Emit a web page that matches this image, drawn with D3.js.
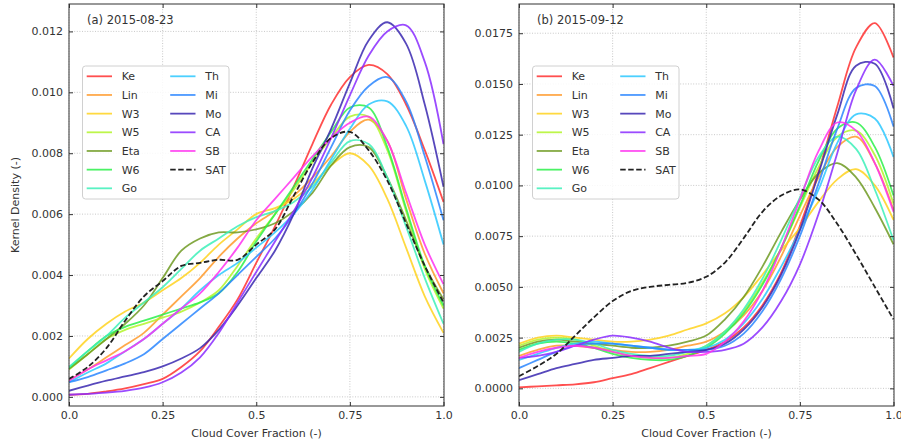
<!DOCTYPE html>
<html>
<head>
<meta charset="utf-8">
<script src="https://cdn.jsdelivr.net/npm/d3@7"></script>
<style>
  body { margin: 0; background: #fff; }
  text { font-family: "DejaVu Sans", sans-serif; fill: #333; }
</style>
</head>
<body>
<div class="chart"></div>
<script>
// x positions (cloud cover fraction) where the curves were read
const xGrid = [0, 0.05, 0.1, 0.15, 0.2, 0.25, 0.3, 0.35, 0.4, 0.45, 0.5, 0.55, 0.6, 0.65, 0.7, 0.75, 0.8, 0.85, 0.9, 0.95, 1]

const seriesNames = ["Ke", "Lin", "W3", "W5", "Eta", "W6", "Go", "Th", "Mi", "Mo", "CA", "SB", "SAT"]
const seriesColors = ["#ff3030", "#ff9a2a", "#ffd21f", "#b2f52a", "#6f9a22", "#2cf04a", "#3cf0b8",
                      "#2cc8ff", "#2a86ff", "#3a28b0", "#8a2cff", "#ff30f0", "#222222"]

const xTicks = [0, 0.25, 0.5, 0.75, 1]
const xTickLabels = ["0.0", "0.25", "0.5", "0.75", "1.0"]

// (a) 2015-08-23
const augKe  = [0.00007, 0.0001, 0.00018, 0.00028, 0.00042, 0.00059, 0.00098, 0.0015, 0.0023, 0.0032, 0.0044, 0.0056, 0.0069, 0.0083, 0.0096, 0.0105, 0.0109, 0.0106, 0.0096, 0.0081, 0.0064]
const augLin = [0.00055, 0.0009, 0.0013, 0.0017, 0.0021, 0.0027, 0.0033, 0.0039, 0.0046, 0.0052, 0.0057, 0.0061, 0.0066, 0.0072, 0.0079, 0.0087, 0.0091, 0.0084, 0.0065, 0.0047, 0.0034]
const augW3  = [0.00126, 0.0019, 0.0024, 0.0028, 0.0031, 0.0035, 0.0039, 0.0044, 0.005, 0.0055, 0.006, 0.0062, 0.0065, 0.007, 0.0076, 0.008, 0.0076, 0.0065, 0.0049, 0.0033, 0.0021]
const augW5  = [0.0009, 0.0014, 0.0019, 0.0022, 0.0024, 0.0026, 0.0028, 0.0031, 0.0035, 0.0043, 0.0052, 0.006, 0.0068, 0.0077, 0.0085, 0.0092, 0.0092, 0.0081, 0.0061, 0.0042, 0.0029]
const augEta = [0.00092, 0.0014, 0.0019, 0.0024, 0.003, 0.0039, 0.0048, 0.0052, 0.0054, 0.0054, 0.0055, 0.0057, 0.0061, 0.0067, 0.0076, 0.0082, 0.0082, 0.0072, 0.0058, 0.0043, 0.0032]
const augW6  = [0.00095, 0.0015, 0.002, 0.0023, 0.0025, 0.0027, 0.0029, 0.0031, 0.0034, 0.0041, 0.0051, 0.006, 0.0069, 0.0078, 0.0087, 0.0095, 0.0095, 0.0082, 0.0062, 0.0043, 0.003]
const augGo  = [0.00098, 0.0015, 0.002, 0.0026, 0.0031, 0.0036, 0.0042, 0.0048, 0.0052, 0.0056, 0.0059, 0.0061, 0.0064, 0.0069, 0.0077, 0.0084, 0.0083, 0.0072, 0.0056, 0.0039, 0.0024]
const augTh  = [0.00048, 0.0008, 0.0011, 0.0015, 0.0019, 0.0024, 0.0029, 0.0035, 0.004, 0.0044, 0.0049, 0.0054, 0.006, 0.0068, 0.0078, 0.0088, 0.0096, 0.0097, 0.0089, 0.0071, 0.005]
const augMi  = [0.00048, 0.00065, 0.00087, 0.0011, 0.0014, 0.0019, 0.0024, 0.0029, 0.0034, 0.004, 0.0046, 0.0052, 0.006, 0.007, 0.0082, 0.0094, 0.0102, 0.0105, 0.0097, 0.0079, 0.0058]
const augMo  = [0.0002, 0.00037, 0.00053, 0.00067, 0.00081, 0.001, 0.00126, 0.0016, 0.0022, 0.003, 0.0039, 0.0048, 0.006, 0.0075, 0.0088, 0.0103, 0.0117, 0.0123, 0.0116, 0.0096, 0.0069]
const augCA  = [0.00007, 0.0001, 0.00014, 0.0002, 0.0003, 0.00048, 0.0008, 0.0013, 0.0021, 0.0031, 0.0041, 0.0051, 0.0061, 0.0072, 0.0085, 0.0099, 0.0112, 0.012, 0.0122, 0.011, 0.0083]
const augSB  = [0.00053, 0.0009, 0.0012, 0.0015, 0.0019, 0.0024, 0.0029, 0.0034, 0.0041, 0.0049, 0.0058, 0.0065, 0.0072, 0.0079, 0.0085, 0.009, 0.0092, 0.0084, 0.0067, 0.005, 0.0037]
const augSAT = [0.00059, 0.00098, 0.0016, 0.0025, 0.0033, 0.0038, 0.0043, 0.0044, 0.0045, 0.0045, 0.005, 0.0055, 0.0066, 0.0077, 0.0085, 0.0087, 0.0081, 0.0071, 0.0057, 0.0043, 0.0031]

// (b) 2015-09-12
const sepKe  = [0.00005, 0.0001, 0.00015, 0.0002, 0.0003, 0.0005, 0.0007, 0.001, 0.0013, 0.0016, 0.0019, 0.0023, 0.003, 0.0041, 0.0057, 0.008, 0.0107, 0.0139, 0.0168, 0.018, 0.0163]
const sepLin = [0.0016, 0.0019, 0.0021, 0.0021, 0.002, 0.0019, 0.0018, 0.0018, 0.0019, 0.0021, 0.0023, 0.0028, 0.0036, 0.0048, 0.0065, 0.0085, 0.0104, 0.0119, 0.0124, 0.0111, 0.0088]
const sepW3  = [0.0022, 0.0025, 0.0026, 0.0025, 0.0024, 0.0023, 0.0023, 0.0024, 0.0026, 0.0029, 0.0032, 0.0037, 0.0045, 0.0056, 0.0068, 0.0079, 0.0092, 0.0103, 0.0108, 0.01, 0.0083]
const sepW5  = [0.0021, 0.0024, 0.0025, 0.0024, 0.0021, 0.0018, 0.0016, 0.0015, 0.0015, 0.0017, 0.0021, 0.0028, 0.0038, 0.0052, 0.0069, 0.0089, 0.0109, 0.0124, 0.0127, 0.0115, 0.0091]
const sepEta = [0.002, 0.0023, 0.0024, 0.0023, 0.0022, 0.0021, 0.002, 0.002, 0.0021, 0.0023, 0.0026, 0.0034, 0.0045, 0.006, 0.0077, 0.0093, 0.0106, 0.0111, 0.0104, 0.0089, 0.0071]
const sepW6  = [0.0019, 0.0022, 0.0023, 0.0022, 0.002, 0.0017, 0.0015, 0.0014, 0.0014, 0.0016, 0.002, 0.0027, 0.0037, 0.0051, 0.0069, 0.009, 0.0112, 0.0128, 0.0131, 0.0119, 0.0095]
const sepGo  = [0.0018, 0.0022, 0.0024, 0.0024, 0.0022, 0.0019, 0.0017, 0.0016, 0.0016, 0.0018, 0.0021, 0.0028, 0.0039, 0.0054, 0.0073, 0.0094, 0.0114, 0.0124, 0.0118, 0.0098, 0.0073]
const sepTh  = [0.0014, 0.0017, 0.002, 0.0022, 0.0023, 0.0022, 0.0021, 0.002, 0.0019, 0.0019, 0.002, 0.0024, 0.0032, 0.0044, 0.006, 0.0078, 0.0098, 0.0121, 0.0135, 0.0133, 0.0114]
const sepMi  = [0.001, 0.0014, 0.0018, 0.0021, 0.0022, 0.0022, 0.0021, 0.002, 0.0019, 0.0019, 0.0019, 0.0021, 0.0027, 0.0038, 0.0054, 0.0075, 0.0101, 0.0128, 0.0148, 0.0149, 0.0129]
const sepMo  = [0.0004, 0.0007, 0.001, 0.0012, 0.0014, 0.0015, 0.0016, 0.0016, 0.0017, 0.0018, 0.0019, 0.0022, 0.0029, 0.004, 0.0056, 0.0078, 0.0106, 0.0135, 0.0159, 0.016, 0.0138]
const sepCA  = [0.0015, 0.0016, 0.0018, 0.0021, 0.0024, 0.0026, 0.0025, 0.0023, 0.002, 0.0018, 0.0018, 0.0019, 0.0022, 0.003, 0.0043, 0.0061, 0.0086, 0.0116, 0.0147, 0.0162, 0.0149]
const sepSB  = [0.0015, 0.0018, 0.002, 0.0021, 0.002, 0.0018, 0.0016, 0.0015, 0.0015, 0.0016, 0.0017, 0.0023, 0.0033, 0.0048, 0.0069, 0.0093, 0.0117, 0.0131, 0.0127, 0.0111, 0.0087]
const sepSAT = [0.0006, 0.0011, 0.0017, 0.0026, 0.0035, 0.0043, 0.0048, 0.005, 0.0051, 0.0052, 0.0055, 0.0062, 0.0074, 0.0087, 0.0095, 0.0098, 0.0093, 0.0081, 0.0066, 0.005, 0.0034]

const augTicks = [0, 0.002, 0.004, 0.006, 0.008, 0.010, 0.012]
const sepTicks = [0, 0.0025, 0.005, 0.0075, 0.01, 0.0125, 0.015, 0.0175]

const panels = [
    { title: "(a) 2015-08-23", left: 69, domain: [-0.0003, 0.0129], ticks: augTicks, fmt: d3.format(".3f"),
      series: [augKe, augLin, augW3, augW5, augEta, augW6, augGo, augTh, augMi, augMo, augCA, augSB, augSAT] },
    { title: "(b) 2015-09-12", left: 519, domain: [-0.00087, 0.01894], ticks: sepTicks, fmt: d3.format(".4f"),
      series: [sepKe, sepLin, sepW3, sepW5, sepEta, sepW6, sepGo, sepTh, sepMi, sepMo, sepCA, sepSB, sepSAT] }
]

const W = 901, H = 444
const plot = { top: 4, bottom: 406, width: 375 }

const svg = d3.select(".chart").append("svg").attr("width", W).attr("height", H)

let draw_panel = (p, idx) => {
    const x = d3.scaleLinear().domain([0, 1]).range([p.left, p.left + plot.width - 0.5])
    const y = d3.scaleLinear().domain(p.domain).range([plot.bottom, plot.top])
    const g = svg.append("g")
    const right = p.left + plot.width

    // dotted grid
    g.append("g").selectAll("line").data(xTicks).enter().append("line")
      .attr("x1", d => x(d)).attr("x2", d => x(d))
      .attr("y1", plot.top).attr("y2", plot.bottom)
      .style("stroke", "#c8c8c8").style("stroke-dasharray", "1,1.6")
    g.append("g").selectAll("line").data(p.ticks).enter().append("line")
      .attr("x1", p.left).attr("x2", right)
      .attr("y1", d => y(d)).attr("y2", d => y(d))
      .style("stroke", "#c8c8c8").style("stroke-dasharray", "1,1.6")

    // curves
    const clipId = "clip" + idx
    g.append("clipPath").attr("id", clipId).append("rect")
      .attr("x", p.left).attr("y", plot.top).attr("width", plot.width).attr("height", plot.bottom - plot.top)
    const line = d3.line().x((d, i) => x(xGrid[i])).y(d => y(d)).curve(d3.curveCatmullRom.alpha(0.5))
    g.append("g").attr("clip-path", `url(#${clipId})`)
      .selectAll("path").data(p.series).enter().append("path")
      .attr("d", d => line(d))
      .style("fill", "none")
      .style("stroke", (d, i) => seriesColors[i])
      .style("stroke-opacity", (d, i) => i === 12 ? 1 : 0.85)
      .style("stroke-width", 1.8)
      .style("stroke-dasharray", (d, i) => i === 12 ? "5.5,2.5" : null)

    // axes, ticks pointing inward on all sides
    const bottom = d3.axisBottom(x).tickValues(xTicks).tickFormat((d, i) => xTickLabels[i])
                     .tickSizeInner(-4).tickSizeOuter(0).tickPadding(5)
    const leftAx = d3.axisLeft(y).tickValues(p.ticks).tickFormat(p.fmt)
                     .tickSizeInner(-4).tickSizeOuter(0).tickPadding(6)
    const top = d3.axisTop(x).tickValues(xTicks).tickFormat("").tickSizeInner(-4).tickSizeOuter(0)
    const rightAx = d3.axisRight(y).tickValues(p.ticks).tickFormat("").tickSizeInner(-4).tickSizeOuter(0)
    const axes = [
        [bottom, `translate(0,${plot.bottom})`],
        [leftAx, `translate(${p.left},0)`],
        [top, `translate(0,${plot.top})`],
        [rightAx, `translate(${right},0)`]
    ]
    axes.forEach(([ax, tr]) => {
        const a = g.append("g").attr("transform", tr).call(ax)
        a.select(".domain").remove()
        a.selectAll("line").style("stroke", "#333")
        a.selectAll("text").style("font-size", "11px").style("fill", "#333")
            .style("font-family", "DejaVu Sans, sans-serif")
    })

    g.append("rect")
      .attr("x", p.left).attr("y", plot.top).attr("width", plot.width).attr("height", plot.bottom - plot.top)
      .style("fill", "none").style("stroke", "#333").style("stroke-width", 1)

    g.append("text").attr("x", p.left + 18).attr("y", 24)
      .style("font-size", "11.5px").text(p.title)

    g.append("text").attr("x", p.left + plot.width / 2).attr("y", 437)
      .attr("text-anchor", "middle").style("font-size", "11px").text("Cloud Cover Fraction (-)")

    // legend
    const lg = g.append("g").attr("transform", `translate(${p.left + 13.5},66)`)
    lg.append("rect").attr("width", 146.5).attr("height", 133).attr("rx", 3)
      .style("fill", "rgba(255,255,255,0.85)").style("stroke", "#d0d0d0")
    const item = lg.selectAll(".item").data(seriesNames).enter().append("g")
      .attr("transform", (d, i) => `translate(${i < 7 ? 0 : 83.5},${10.3 + (i % 7) * 18.67})`)
    item.append("line").attr("x1", 4.2).attr("x2", 29.5)
      .style("stroke", (d, i) => seriesColors[i])
      .style("stroke-opacity", (d, i) => i === 12 ? 1 : 0.85)
      .style("stroke-width", 1.8)
      .style("stroke-dasharray", (d, i) => i === 12 ? "5.5,2.5" : null)
    item.append("text").attr("x", 39.2).attr("dy", "0.36em")
      .style("font-size", "11px").text(d => d)
}

panels.forEach(draw_panel)

svg.append("text")
  .attr("transform", "translate(19,205) rotate(-90)")
  .attr("text-anchor", "middle").style("font-size", "11px").text("Kernel Density (-)")
</script>
</body>
</html>
